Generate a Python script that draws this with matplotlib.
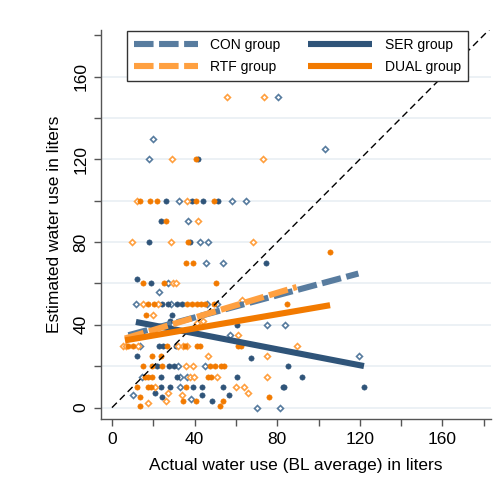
import matplotlib
matplotlib.use("Agg")
import matplotlib.pyplot as plt
from matplotlib.lines import Line2D

plt.rcParams['font.family'] = ['Liberation Sans', 'DejaVu Sans']

# ---------------- data ----------------
con_x = [80.2, 19.7, 103, 17.8, 32.6, 58.0, 64.9, 37.0, 42.4, 46.3, 45.5, 53.9, 27.0, 22.9,
         11.6, 28.5, 46.2, 51.0, 75.2, 83.8, 57.1, 13.6, 119.6, 32.1, 45.0, 14.4, 33.0, 36.5,
         32.9, 10.3, 38.3, 70.0, 81.4]
con_y = [150, 130, 125, 120, 100, 100, 100, 90, 80, 80, 70, 70, 60, 56,
         50, 50, 50, 50, 40, 40, 35, 30, 25, 20, 20, 15, 15, 15,
         10, 6, 4, 0, 0]

rtf_x = [55.5, 73.5, 29.2, 73.3, 12.3, 36.5, 41.5, 9.8, 28.6, 68.3, 29.7, 31.0, 15.2, 22.1,
         19.7, 44.2, 41.0, 63.1, 60.9, 89.7, 5.5, 6.8, 12.7, 32.0, 34.5, 36.5, 46.6, 74.9,
         35.8, 39.4, 37.8, 39.5, 50.7, 74.9, 20.8, 60.0, 64.1, 65.7, 17.6, 26.0, 27.0, 34.0]
rtf_y = [150, 150, 120, 120, 100, 100, 90, 80, 80, 80, 60, 60, 50, 50,
         45, 42, 41, 52, 35, 30, 30, 30, 30, 30, 30, 30, 25, 25,
         20, 20, 15, 15, 15, 15, 10, 10, 10, 7, 2, 3, 7, 6]

ser_x = [41.5, 26.0, 38.7, 44.1, 51.3, 23.6, 17.8, 37.9, 74.4, 12.1, 18.9, 24.2, 27.3, 31.6,
         33.9, 28.9, 28.1, 60.4, 22.9, 24.9, 31.0, 11.9, 67.2, 21.6, 27.8, 30.0, 85.0, 23.6,
         31.6, 60.4, 91.9, 23.7, 28.1, 39.0, 43.4, 53.6, 82.7, 83.4, 122.0, 20.8, 24.0, 43.7,
         48.3, 56.8]
ser_y = [120, 100, 100, 100, 100, 90, 80, 80, 70, 62, 60, 50, 50, 50,
         50, 45, 42, 40, 30, 30, 30, 25, 24, 20, 20, 20, 20, 15,
         15, 15, 15, 10, 10, 10, 10, 10, 10, 10, 10, 7, 5, 6,
         3, 6]

dual_x = [40.8, 13.6, 18.4, 21.9, 40.5, 49.2, 26.0, 37.0, 35.7, 39.1, 105.6, 14.9, 25.3, 50.2,
          17.6, 20.5, 36.5, 38.6, 41.0, 42.9, 45.0, 49.5, 84.6, 16.3, 61.0, 62.5, 7.9, 10.3,
          26.5, 35.5, 41.0, 42.6, 19.5, 23.6, 14.9, 19.5, 24.1, 47.5, 49.9, 52.6, 54.2, 16.0,
          17.6, 19.2, 46.5, 48.0, 12.3, 17.6, 18.8, 36.0, 76.2, 13.6, 13.7, 34.4, 40.7, 52.1,
          53.6]
dual_y = [120, 100, 100, 100, 100, 100, 90, 80, 70, 70, 75, 60, 60, 60,
          50, 50, 50, 50, 50, 50, 50, 50, 50, 45, 30, 30, 30, 30,
          30, 30, 30, 30, 25, 25, 20, 20, 20, 20, 20, 20, 20, 15,
          15, 15, 15, 15, 10, 10, 10, 10, 5, 5, 1, 3, 3, 1,
          3]

# linear fit lines: [x_start, x_end], [y_start, y_end]
fit_con_x, fit_con_y = [8.0, 119.3], [35.0, 64.8]
fit_rtf_x, fit_rtf_y = [6.3, 89.4], [33.4, 58.3]
fit_ser_x, fit_ser_y = [11.6, 122.0], [41.4, 20.1]
fit_dual_x, fit_dual_y = [6.3, 105.6], [32.5, 49.5]

group_labels = ["CON group", "RTF group", "SER group", "DUAL group"]

# ---------------- style ----------------
c_con = '#587c9f'
c_ser = '#2f5479'
c_rtf = '#ffa040'
c_dual = '#f27a00'

fig = plt.figure(figsize=(4.93, 4.80), dpi=100)
ax = fig.add_axes([101/493, 1-419/480, 390/493, 389/480])

ax.plot(con_x, con_y, ls='none', marker='D', ms=3.0, mfc='white', mec=c_con, mew=1.2, zorder=3)
ax.plot(ser_x, ser_y, ls='none', marker='o', ms=3.8, mfc=c_ser, mec=c_ser, mew=0.4, zorder=3)
ax.plot(rtf_x, rtf_y, ls='none', marker='D', ms=3.0, mfc='white', mec=c_rtf, mew=1.2, zorder=3)
ax.plot(dual_x, dual_y, ls='none', marker='o', ms=3.8, mfc=c_dual, mec=c_dual, mew=0.4, zorder=3)

# 45 degree reference
ax.plot([0, 183], [0, 183], color='black', lw=1.0, ls=(0, (5, 3)), zorder=4)

lw = 4.4
dash = (0, (3.2, 0.9))
ax.plot(fit_con_x, fit_con_y, color=c_con, lw=lw, ls=dash, solid_capstyle='butt', dash_capstyle='butt', zorder=5)
ax.plot(fit_ser_x, fit_ser_y, color=c_ser, lw=lw, solid_capstyle='butt', zorder=5)
ax.plot(fit_rtf_x, fit_rtf_y, color=c_rtf, lw=lw, ls=dash, dash_capstyle='butt', zorder=5)
ax.plot(fit_dual_x, fit_dual_y, color=c_dual, lw=lw, solid_capstyle='butt', zorder=5)

ax.set_xlim(-5.3, 183.5)
ax.set_ylim(-5.5, 182.5)

ax.set_xticks([0, 20, 40, 60, 80, 100, 120, 140, 160, 180])
ax.set_xticklabels(['0', '', '40', '', '80', '', '120', '', '160', ''])
ax.set_yticks([0, 20, 40, 60, 80, 100, 120, 140, 160, 180])
ax.set_yticklabels(['0', '', '40', '', '80', '', '120', '', '160', ''], rotation=90, va='center')
ax.tick_params(axis='both', labelsize=12.5, length=5, width=1.0, color='#555555', pad=4)

for yv in [0, 20, 40, 60, 80, 100, 120, 140, 160]:
    ax.axhline(yv, color='#ebf0f4', lw=1.3, zorder=1)

for s in ['top', 'right']:
    ax.spines[s].set_visible(False)
for s in ['left', 'bottom']:
    ax.spines[s].set_color('#555555')
    ax.spines[s].set_linewidth(1.0)

ax.set_xlabel("Actual water use (BL average) in liters", fontsize=12.5, labelpad=8)
ax.set_ylabel("Estimated water use in liters", fontsize=12.5, labelpad=8)

handles = [
    Line2D([], [], color=c_con, lw=lw, ls=dash, dash_capstyle='butt'),
    Line2D([], [], color=c_rtf, lw=lw, ls=dash, dash_capstyle='butt'),
    Line2D([], [], color=c_ser, lw=lw, solid_capstyle='butt'),
    Line2D([], [], color=c_dual, lw=lw, solid_capstyle='butt'),
]
leg = ax.legend(handles, group_labels, ncol=2, loc='upper left',
                bbox_to_anchor=(0.067, 0.997), fontsize=10, frameon=True,
                fancybox=False, edgecolor='#333333', framealpha=1,
                handlelength=4.6, handletextpad=0.9, columnspacing=2.0,
                borderpad=0.5, labelspacing=0.55, borderaxespad=0)
leg.get_frame().set_linewidth(1.0)
leg.set_zorder(10)

fig.savefig("out.png", dpi=100)
